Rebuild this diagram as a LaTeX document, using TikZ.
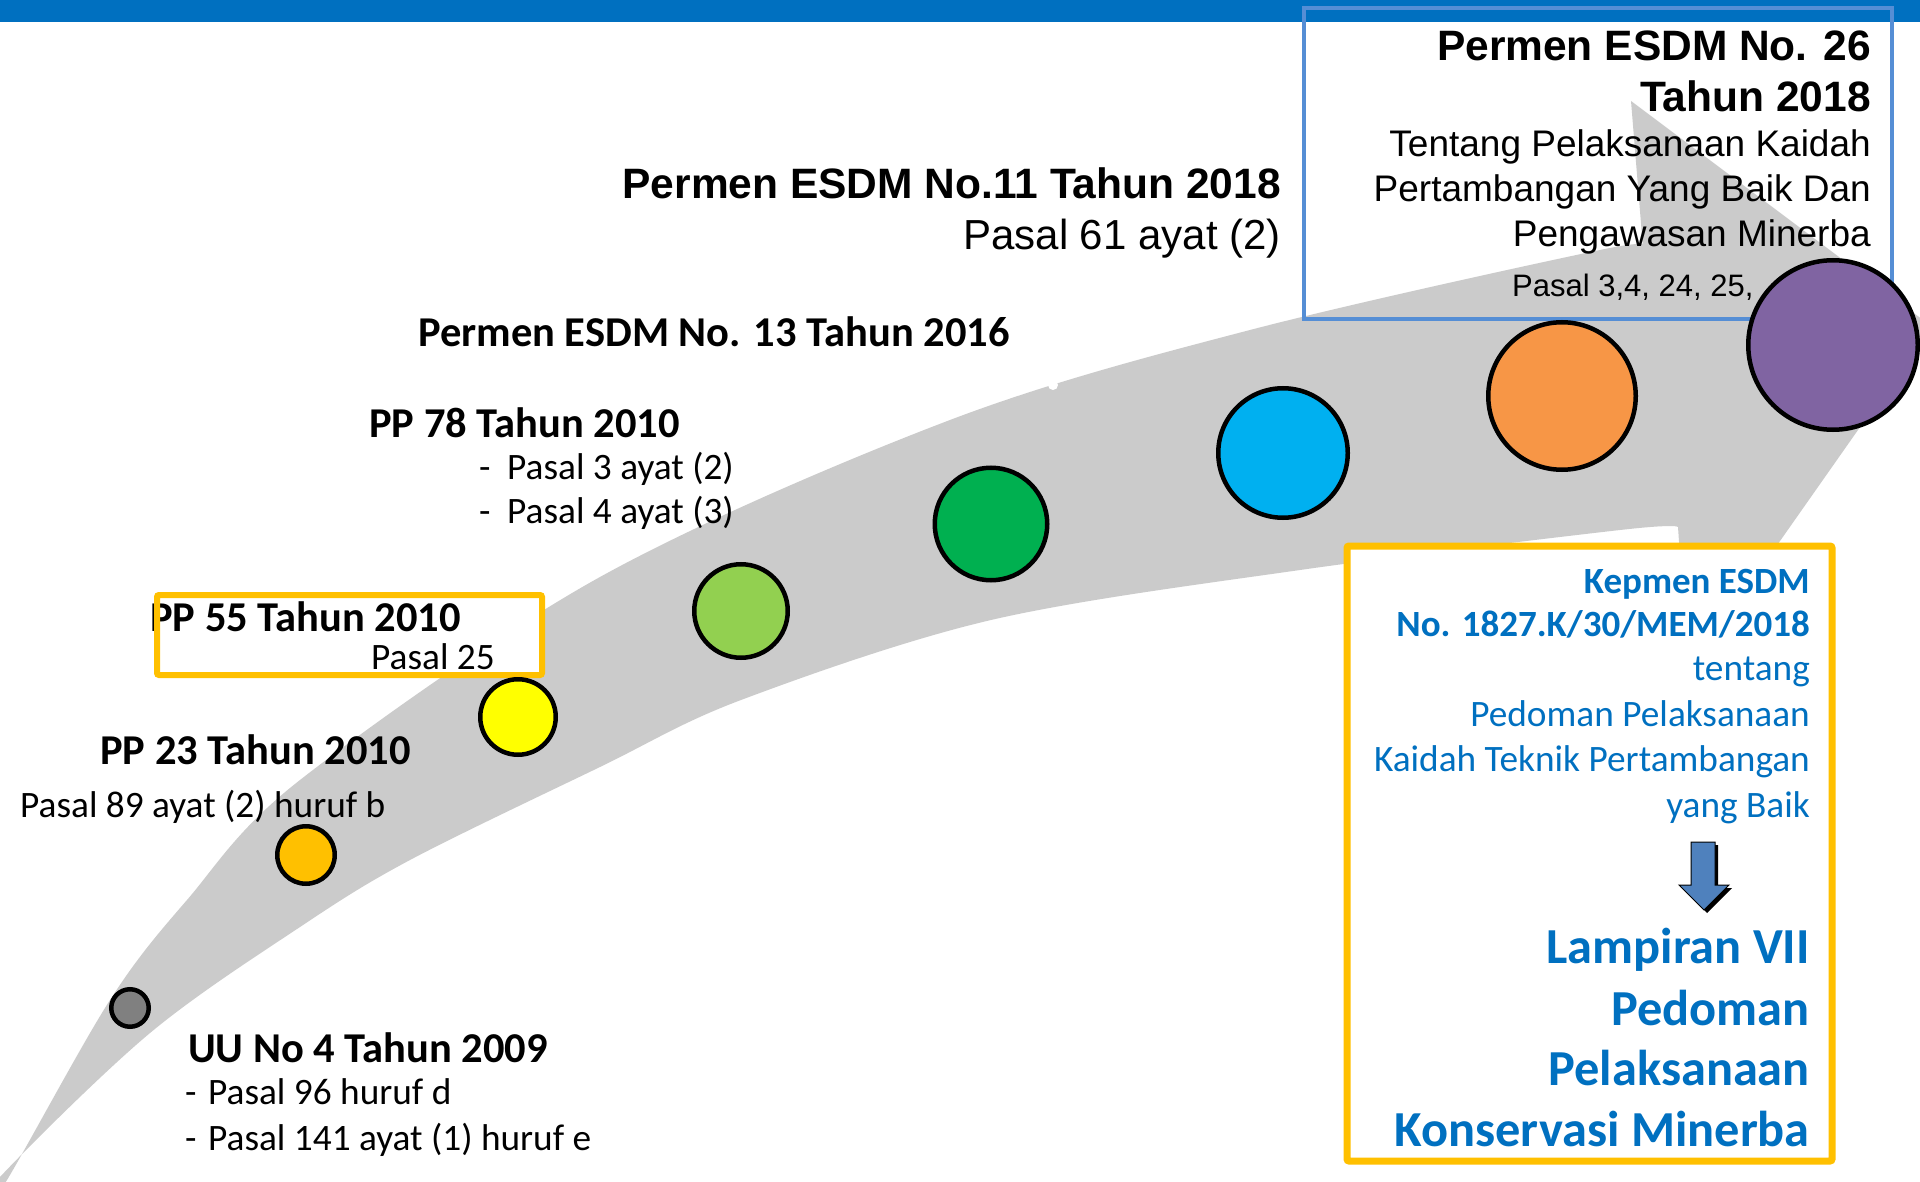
\documentclass[tikz,border=0pt]{standalone}
\usepackage{fontspec}
\setmainfont{Carlito}
\newfontfamily\arialfont{Liberation Sans}
\usetikzlibrary{positioning}

\definecolor{barblue}{HTML}{0070C0}
\definecolor{frameblue}{RGB}{85,142,213}
\definecolor{frameyellow}{HTML}{FFC000}
\definecolor{bandgray}{RGB}{203,203,203}
\definecolor{arrowblue}{HTML}{4F81BD}
\definecolor{cgray}{HTML}{808080}
\definecolor{camber}{HTML}{FFC000}
\definecolor{cyellow}{HTML}{FFFF00}
\definecolor{clime}{HTML}{92D050}
\definecolor{cgreen}{HTML}{00B050}
\definecolor{ccyan}{HTML}{00B0F0}
\definecolor{corange}{HTML}{F79646}
\definecolor{cpurple}{HTML}{8064A2}

\begin{document}
\begin{tikzpicture}[x=1pt, y=-1pt,
		dot/.style={circle, draw=black, line width=4.5pt, inner sep=0pt},
		ttl/.style={inner sep=0pt, anchor=base west, font=\bfseries\fontsize{42.5}{50}\selectfont},
		sub/.style={inner sep=0pt, anchor=base west, font=\fontsize{37.3}{44}\selectfont},
		ahead/.style={inner sep=0pt, anchor=base east, font=\arialfont\bfseries\fontsize{42.5}{50}\selectfont},
		atext/.style={inner sep=0pt, anchor=base east, font=\arialfont\fontsize{37}{44}\selectfont},
		khead/.style={inner sep=0pt, anchor=base east, text=barblue, font=\bfseries\fontsize{37}{44}\selectfont},
		ktext/.style={inner sep=0pt, anchor=base east, text=barblue, font=\fontsize{37.3}{44}\selectfont},
		kbig/.style={inner sep=0pt, anchor=base east, text=barblue, font=\bfseries\fontsize{50.4}{60}\selectfont}]
		\useasboundingbox (0,0) rectangle (1920,1182);
		\clip (0,0) rectangle (1920,1182);
		\fill[white] (0,0) rectangle (1920,1182);
		\fill[barblue] (0,0) rectangle (1920,22);

		% curved band with arrow head
		\fill[bandgray] plot[smooth, tension=0.55] coordinates {(-20,1215) (7,1180) (110,1000) (187,900) (300,780) (600,577) (950,420) (1250,330) (1600,250) (1643,248)}
			-- (1631,101) -- (1931,326) -- (1688,672) -- (1678,527)
			-- plot[smooth, tension=0.55] coordinates {(1678,527) (1620,530) (1300,570) (991,620) (741,700) (600,767) (410,860) (300,927) (150,1033) (0,1177) (-20,1215)} -- cycle;
		\fill[white] (1053,385) circle (5pt);

		% top right frame
		\draw[frameblue, line width=4pt] (1304,8) rectangle (1892,319);
		\node[ahead] (p26a) at (1871,61) {Permen ESDM No. 26};
		\node[ahead] (p26b) at (1871,112) {Tahun 2018};
		\node[atext] (p26c) at (1871,157) {Tentang Pelaksanaan Kaidah};
		\node[atext] (p26d) at (1871,202) {Pertambangan Yang Baik Dan};
		\node[atext] (p26e) at (1871,247) {Pengawasan Minerba};
		\node[inner sep=0pt, anchor=base west, font=\arialfont\fontsize{31}{38}\selectfont] (p26f) at (1512,297) {Pasal 3,4, 24, 25,};

		\node[ahead] (p11) at (1281,199) {Permen ESDM No.11 Tahun 2018};
		\node[ahead, font=\arialfont\fontsize{42}{50}\selectfont] (p11s) at (1281,250) {Pasal 61 ayat (2)};

		\node[ttl] (p13) at (418,346) {Permen ESDM No. 13 Tahun 2016};

		\node[ttl] (pp78) at (369,437) {PP 78 Tahun 2010};
		\node[sub] (pp78a) at (479,479) {\makebox[28pt][l]{-}Pasal 3 ayat (2)};
		\node[sub] (pp78b) at (479,523) {\makebox[28pt][l]{-}Pasal 4 ayat (3)};

		% PP 55 frame
		\fill[white] (157,595) rectangle (542,675);
		\node[ttl] (pp55) at (150,631) {PP 55 Tahun 2010};
		\node[sub] (pp55s) at (371,669) {Pasal 25};
		\draw[frameyellow, line width=6pt, rounded corners=2pt] (157,595) rectangle (542,675);

		\node[ttl] (pp23) at (100,764) {PP 23 Tahun 2010};
		\node[sub] (pp23s) at (20,817) {Pasal 89 ayat (2) huruf b};

		\node[ttl] (uu) at (188,1062) {UU No 4 Tahun 2009};
		\node[sub] (uua) at (185,1104) {\makebox[23pt][l]{-}Pasal 96 huruf d};
		\node[sub] (uub) at (185,1150) {\makebox[23pt][l]{-}Pasal 141 ayat (1) huruf e};

		% milestones
		\node[dot, fill=cgray, minimum size=37.5pt] (d1) at (130,1008) {};
		\node[dot, fill=camber, minimum size=57.5pt] (d2) at (306,855) {};
		\node[dot, fill=cyellow, minimum size=75.5pt] (d3) at (518,717) {};
		\node[dot, fill=clime, minimum size=93.5pt] (d4) at (741,611) {};
		\node[dot, fill=cgreen, minimum size=112.5pt] (d5) at (991,524) {};
		\node[dot, fill=ccyan, minimum size=129.5pt] (d6) at (1283,453) {};
		\node[dot, fill=corange, minimum size=147.5pt] (d7) at (1562,396) {};
		\node[dot, fill=cpurple, minimum size=169.5pt] (d8) at (1833,345) {};

		% Kepmen frame
		\draw[frameyellow, fill=white, line width=7pt, rounded corners=2pt] (1347,546) rectangle (1832,1161);
		\node[khead] (k1) at (1810,593) {Kepmen ESDM};
		\node[khead] (k2) at (1810,636) {No. 1827.K/30/MEM/2018};
		\node[ktext] (k3) at (1810,680) {tentang};
		\node[ktext] (k4) at (1810,726) {Pedoman Pelaksanaan};
		\node[ktext] (k5) at (1810,771) {Kaidah Teknik Pertambangan};
		\node[ktext] (k6) at (1810,817) {yang Baik};
		\fill[black, shift={(3,3)}] (1691,842) -- (1715,842) -- (1715,885) -- (1729,885) -- (1704,910) -- (1679,885) -- (1691,885) -- cycle;
		\filldraw[fill=arrowblue, draw=black, line width=1pt] (1691,842) -- (1715,842) -- (1715,885) -- (1729,885) -- (1704,910) -- (1679,885) -- (1691,885) -- cycle;
		\node[kbig] (l1) at (1810,963) {Lampiran VII};
		\node[kbig] (l2) at (1810,1025) {Pedoman};
		\node[kbig] (l3) at (1810,1085) {Pelaksanaan};
		\node[kbig] (l4) at (1810,1146) {Konservasi Minerba};
	\end{tikzpicture}
\end{document}
